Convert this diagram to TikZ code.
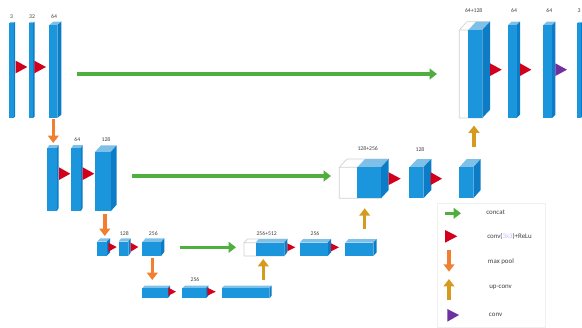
\documentclass[tikz,border=0pt]{standalone}
\usepackage{fontspec}
\setmainfont{Carlito}
\usetikzlibrary{arrows.meta}

\definecolor{blockfront}{HTML}{1B95DB}
\definecolor{blocktop}{HTML}{7FC0E8}
\definecolor{blockside}{HTML}{0C7CC6}
\definecolor{concatgreen}{HTML}{4EAE3E}
\definecolor{relured}{HTML}{D2001A}
\definecolor{poolorange}{HTML}{F08030}
\definecolor{upgold}{HTML}{D69A1E}
\definecolor{convpurple}{HTML}{7030A0}
\definecolor{labelgrey}{HTML}{404040}

\tikzset{
  sizelabel/.style={inner sep=0.75pt,text=labelgrey,font=\fontsize{4.3}{5}\selectfont},
  legendlabel/.style={anchor=west,inner sep=0.75pt,text=labelgrey,font=\fontsize{5.2}{6}\selectfont},
  concatarrow/.style={draw=concatgreen,line width=2.6pt,-{Triangle[length=5.5pt,width=8pt]}},
  poolarrow/.style={draw=poolorange,line width=2.6pt,-{Triangle[length=5.5pt,width=8pt]}},
  uparrow/.style={draw=upgold,line width=2.6pt,-{Triangle[length=5.5pt,width=8pt]}},
  relutri/.style={fill=relured},
  convtri/.style={fill=convpurple},
  emptybox/.style={draw=black!18,fill=white,line width=0.5pt,line join=miter},
}

% left, front right, right, back top, front top, bottom
\newcommand{\unetblock}[6]{
  \pgfmathsetmacro{\blockd}{#3-#2}
  \pgfmathsetmacro{\blockh}{#5-#4}
  \fill[blocktop] (#1,#5) -- (#1+\blockd,#4) -- (#3,#4) -- (#2,#5) -- cycle;
  \fill[blockside] (#2,#5) -- (#3,#4) -- (#3,#6-\blockh) -- (#2,#6) -- cycle;
  \fill[blockfront] (#1,#5) rectangle (#2,#6);
}

\begin{document}
\begin{tikzpicture}[x=0.75pt,y=0.75pt,yscale=-1,xscale=1]
\useasboundingbox (0,0) rectangle (582,328);

%Row 1, left
\unetblock{9}{13.5}{15}{22}{23.5}{118}
\unetblock{28.5}{33}{34.5}{22}{23.5}{118}
\unetblock{49.3}{57.3}{61.3}{21.7}{25}{118}
\fill[relutri] (15.7,60.7) -- (27.3,67) -- (15.7,73.3) -- cycle;
\fill[relutri] (34.3,60.7) -- (46,67) -- (34.3,73.3) -- cycle;

%Row 2, left
\unetblock{47.3}{56.7}{58.7}{145}{148.3}{211.3}
\unetblock{71.3}{80.7}{82.7}{145}{148.3}{211.3}
\unetblock{95}{110.7}{116.7}{145.3}{152}{211.3}
\fill[relutri] (59,167.3) -- (70.3,173.7) -- (59,180) -- cycle;
\fill[relutri] (82.7,167.3) -- (94.3,173.7) -- (82.7,180) -- cycle;

%Row 3, left
\unetblock{97}{106.7}{110}{238.3}{241.7}{256}
\unetblock{118.7}{128.3}{130.7}{238.3}{241.7}{256}
\unetblock{142.3}{161}{164.3}{238.3}{242.3}{256}
\fill[relutri] (108.3,242.7) -- (116.7,247) -- (108.3,251.7) -- cycle;
\fill[relutri] (130.7,242.7) -- (138.3,247) -- (130.7,251.7) -- cycle;

%Row 4, bottom
\unetblock{142.3}{167.7}{170}{285.7}{288.3}{298.3}
\unetblock{182.3}{205.8}{208.3}{285.7}{288.3}{298.3}
\unetblock{221.7}{269.3}{271.7}{285.7}{288.3}{298.3}
\fill[relutri] (168.3,287.7) -- (176,291.7) -- (168.3,295.7) -- cycle;
\fill[relutri] (207.3,287.7) -- (215.7,291.7) -- (207.3,295.7) -- cycle;

%Row 3, right
\draw[emptybox] (244,242.7) -- (247.5,239) -- (287.3,239) -- (284.3,242.7) -- (284.3,256) -- (244,256) -- cycle (244,242.7) -- (284.3,242.7);
\unetblock{255.7}{284.3}{287.3}{239}{242.7}{256}
\unetblock{299.7}{327.7}{331}{239}{242.7}{256}
\unetblock{345.3}{373.3}{376.7}{239}{242.7}{256}
\fill[relutri] (287.3,243.3) -- (295.3,247.3) -- (287.3,251.3) -- cycle;
\fill[relutri] (331,243.3) -- (339,247.3) -- (331,251.3) -- cycle;

%Row 2, right
\draw[emptybox] (339.3,167.3) -- (347,159) -- (388.7,159) -- (381,167.3) -- (381,198.3) -- (339.3,198.3) -- cycle (339.3,167.3) -- (381,167.3);
\unetblock{357.3}{381}{388.7}{159}{167.3}{198.3}
\unetblock{409.3}{423.3}{431.3}{159}{167.3}{198.3}
\unetblock{459.3}{473.3}{480.7}{159}{167.3}{198.3}
\fill[relutri] (388.7,172.3) -- (400.7,178.7) -- (388.7,185) -- cycle;
\fill[relutri] (430.7,172.3) -- (442,178.7) -- (430.7,185) -- cycle;

%Row 1, right
\draw[emptybox] (459.3,30) -- (467,21.7) -- (490,21.7) -- (482.3,30) -- (482.3,118) -- (459.3,118) -- cycle (459.3,30) -- (482.3,30);
\unetblock{468.3}{482.3}{490}{21.7}{30}{118}
\unetblock{508}{516.7}{520}{21.7}{25}{118}
\unetblock{543.3}{552}{555.3}{21.7}{25}{118}
\unetblock{577.3}{581}{582}{22}{23.5}{118}
\fill[relutri] (490,63.3) -- (501.7,69.7) -- (490,76) -- cycle;
\fill[relutri] (520,63.3) -- (531.3,69.7) -- (520,76) -- cycle;
\fill[convtri] (555.3,63.3) -- (567,69.7) -- (555.3,76) -- cycle;

%Arrows between the rows
\coordinate (concatAs) at (77,74);
\coordinate (concatAe) at (437,74);
\coordinate (concatBs) at (132,176);
\coordinate (concatBe) at (331,176);
\coordinate (concatCs) at (180,247.3);
\coordinate (concatCe) at (236,247.3);
\coordinate (poolAs) at (53.3,119);
\coordinate (poolAe) at (53.3,143);
\coordinate (poolBs) at (104.8,214);
\coordinate (poolBe) at (104.8,236);
\coordinate (poolCs) at (152.3,258);
\coordinate (poolCe) at (152.3,280);
\coordinate (upAs) at (263.3,280);
\coordinate (upAe) at (263.3,259);
\coordinate (upBs) at (364.7,229.3);
\coordinate (upBe) at (364.7,208.3);
\coordinate (upCs) at (474,147);
\coordinate (upCe) at (474,125.5);
\draw[concatarrow] (concatAs) -- (concatAe);
\draw[concatarrow] (concatBs) -- (concatBe);
\draw[concatarrow] (concatCs) -- (concatCe);
\draw[poolarrow] (poolAs) -- (poolAe);
\draw[poolarrow] (poolBs) -- (poolBe);
\draw[poolarrow] (poolCs) -- (poolCe);
\draw[uparrow] (upAs) -- (upAe);
\draw[uparrow] (upBs) -- (upBe);
\draw[uparrow] (upCs) -- (upCe);

%Legend
\draw[draw=black!6,line width=0.5pt] (437.3,203.3) rectangle (545,327.3);
\coordinate (keyconcats) at (445,213.3);
\coordinate (keyconcate) at (461,213.3);
\coordinate (keypools) at (449,250);
\coordinate (keypoole) at (449,271.7);
\coordinate (keyups) at (449,300.3);
\coordinate (keyupe) at (449,279);
\draw[concatarrow] (keyconcats) -- (keyconcate);
\fill[relutri] (445,230) -- (457.3,236.3) -- (445,242.7) -- cycle;
\draw[poolarrow] (keypools) -- (keypoole);
\draw[uparrow] (keyups) -- (keyupe);
\fill[convtri] (447.3,309) -- (459,315) -- (447.3,321.7) -- cycle;

% Text Node
\node[sizelabel] (lblA) at (11.5,17) {3};
\node[sizelabel] (lblB) at (32,17) {32};
\node[sizelabel] (lblC) at (54,16.5) {64};
\node[sizelabel] (lblD) at (77.3,140) {64};
\node[sizelabel] (lblE) at (106,140) {128};
\node[sizelabel] (lblF) at (124.3,233.7) {128};
\node[sizelabel] (lblG) at (153.3,233.7) {256};
\node[sizelabel] (lblH) at (195,280) {256};
\node[sizelabel] (lblI) at (266.7,233.7) {256+512};
\node[sizelabel] (lblJ) at (315,233.7) {256};
\node[sizelabel] (lblK) at (367.7,148.3) {128+256};
\node[sizelabel] (lblL) at (420,150) {128};
\node[sizelabel] (lblM) at (473.7,11) {64+128};
\node[sizelabel] (lblN) at (514,11) {64};
\node[sizelabel] (lblO) at (549.3,11) {64};
\node[sizelabel] (lblP) at (579,11) {3};
% Text Node
\node[legendlabel] (keyconcat) at (485,212.7) {concat};
\node[legendlabel] (keyrelu) at (486,236) {conv({\color{blue!25}3x3})+ReLu};
\node[legendlabel] (keypool) at (486.7,261.7) {max pool};
\node[legendlabel] (keyup) at (488,287.3) {up-conv};
\node[legendlabel] (keyconv) at (487.7,315) {conv};

\end{tikzpicture}
\end{document}
